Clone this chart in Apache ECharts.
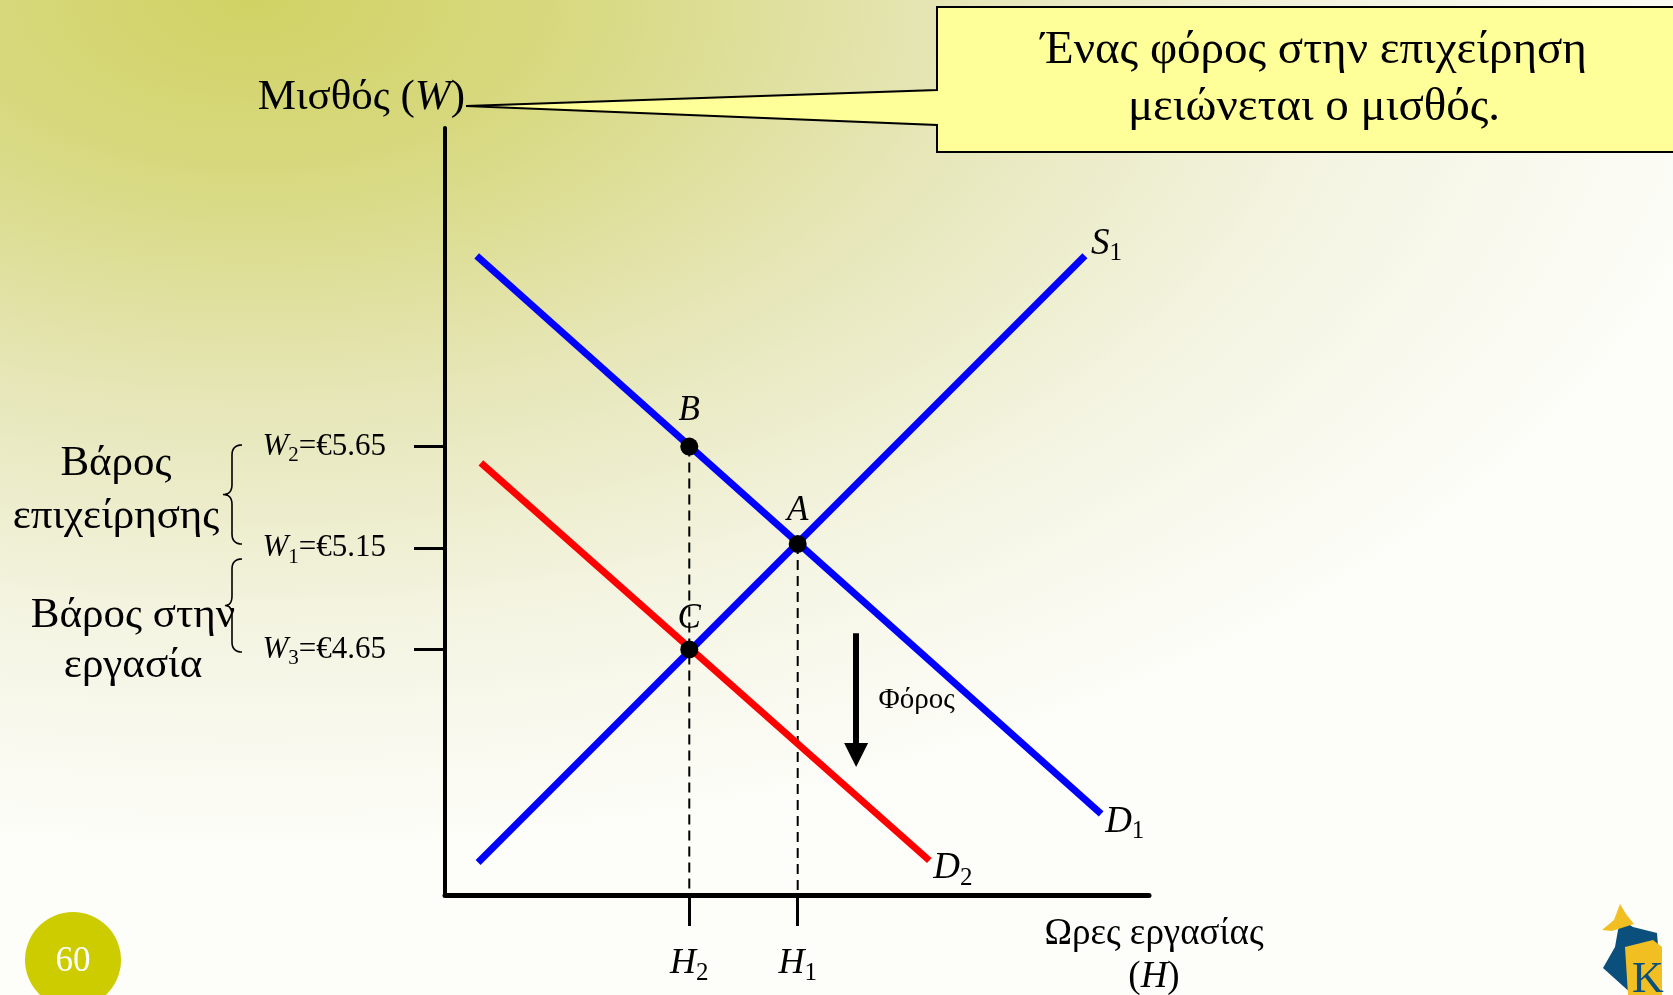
<!DOCTYPE html>
<html><head><meta charset="utf-8">
<script src="https://cdn.jsdelivr.net/npm/echarts@6/dist/echarts.min.js"></script>
<style>
html,body{margin:0;padding:0;width:1673px;height:995px;overflow:hidden;}
body{background: radial-gradient(ellipse 95% 90% at 15% 0%, #d1d264 0%, #d8d980 20%, #e6e6b8 45%, #f4f4e2 70%, #fdfdf9 95%);}
#c{width:1673px;height:995px;}
</style></head><body><div id="c"></div>
<script>
const FONT = '"Liberation Serif", "DejaVu Serif", serif';

// ---------- data ----------
const hoursRange = [0, 100];
const wageRange = [3.44, 7.22];
const supplyS1 = [[4.7, 3.60], [90.9, 6.59]];
const demandD1 = [[4.5, 6.59], [93.2, 3.84]];
const demandD2 = [[5.1, 5.57], [68.8, 3.61]];
const wageTicks = [5.65, 5.15, 4.65];
const wageTickIdx = ['2', '1', '3'];
const hourTicks = [34.7, 50.1];
const hourTickIdx = ['2', '1'];
const pointNames = ['A', 'B', 'C'];
const pointX = [50.1, 34.7, 34.7];
const pointY = [5.17, 5.65, 4.65];
const taxArrowX = 58.4;
const taxArrowY = [4.73, 4.13];
const taxLabelPos = [67.0, 4.40];

// ---------- chart ----------
const chart = echarts.init(document.getElementById('c'));
const blk = '#000';

function richSet(main, sub, subPad) {
  return {
    i: {fontFamily: FONT, fontStyle: 'italic', fontSize: main, color: blk},
    n: {fontFamily: FONT, fontSize: main, color: blk},
    s: {fontFamily: FONT, fontSize: sub, color: blk, padding: [subPad, 0, 0, 0]}
  };
}

// curly brace outline as polyline points (annotation shape)
function bracePoints(x, y0, y1, depth) {
  const pts = [];
  const mid = (y0 + y1) / 2;
  const r = 10;
  const q = (p0, p1, p2, n) => {
    for (let k = 0; k <= n; k++) {
      const t = k / n;
      pts.push([(1 - t) * (1 - t) * p0[0] + 2 * (1 - t) * t * p1[0] + t * t * p2[0],
                (1 - t) * (1 - t) * p0[1] + 2 * (1 - t) * t * p1[1] + t * t * p2[1]]);
    }
  };
  q([x + 10, y0], [x, y0], [x, y0 + r], 8);
  q([x, mid - r], [x, mid], [x - depth, mid], 8);
  q([x - depth, mid], [x, mid], [x, mid + r], 8);
  q([x, y1 - r], [x, y1], [x + 10, y1], 8);
  return pts;
}

const labelGap = {A: 7, B: 9, C: 4};
const points = pointNames.map((n, k) => ({
  name: n, value: [pointX[k], pointY[k]], label: {distance: labelGap[n]}
}));

const option = {
  animation: false,
  backgroundColor: 'transparent',
  grid: {left: 445, right: 524, top: 128, bottom: 100, containLabel: false, outerBoundsMode: 'none'},
  xAxis: {
    type: 'value', min: hoursRange[0], max: hoursRange[1],
    axisLine: {show: true, onZero: false, lineStyle: {color: blk, width: 5}},
    axisTick: {show: true, customValues: hourTicks, length: 31, lineStyle: {color: blk, width: 3}},
    axisLabel: {
      show: true, customValues: hourTicks, margin: 46,
      formatter: v => '{i|H}{s|' + hourTickIdx[hourTicks.indexOf(v)] + '}',
      rich: richSet(36, 25, 20)
    },
    splitLine: {show: false}
  },
  yAxis: {
    type: 'value', min: wageRange[0], max: wageRange[1],
    axisLine: {show: true, onZero: false, lineStyle: {color: blk, width: 4}},
    axisTick: {show: true, customValues: wageTicks, length: 31, lineStyle: {color: blk, width: 3}},
    axisLabel: {
      show: true, customValues: wageTicks, margin: 59,
      formatter: v => {
        const k = wageTicks.indexOf(v);
        return '{i|W}{s|' + wageTickIdx[k] + '}{n|=€' + v.toFixed(2) + '}';
      },
      rich: richSet(31, 21, 18)
    },
    splitLine: {show: false}
  },
  series: [
    {
      type: 'line', name: 'H2 guide', z: 2, silent: true, showSymbol: false,
      data: [[pointX[1], pointY[1]], [pointX[1], wageRange[0]]],
      lineStyle: {color: blk, width: 2, type: [10, 6]}
    },
    {
      type: 'line', name: 'H1 guide', z: 2, silent: true, showSymbol: false,
      data: [[pointX[0], pointY[0]], [pointX[0], wageRange[0]]],
      lineStyle: {color: blk, width: 2, type: [10, 6]}
    },
    {
      type: 'line', name: 'S1', z: 3, showSymbol: false, data: supplyS1,
      lineStyle: {color: '#0000ff', width: 7, cap: 'butt'},
      endLabel: {show: true, formatter: '{i|S}{s|1}', rich: richSet(37, 25, 20), distance: 6, offset: [0, -12]}
    },
    {
      type: 'line', name: 'D1', z: 3, showSymbol: false, data: demandD1,
      lineStyle: {color: '#0000ff', width: 7, cap: 'butt'},
      endLabel: {show: true, formatter: '{i|D}{s|1}', rich: richSet(37, 25, 20), distance: 4, offset: [0, 8]}
    },
    {
      type: 'line', name: 'D2', z: 3, showSymbol: false, data: demandD2,
      lineStyle: {color: '#ff0000', width: 7, cap: 'butt'},
      endLabel: {show: true, formatter: '{i|D}{s|2}', rich: richSet(37, 25, 20), distance: 4, offset: [0, 8]}
    },
    {
      type: 'scatter', name: 'points', z: 5, symbolSize: 18, data: points,
      itemStyle: {color: blk, opacity: 1},
      label: {show: true, position: 'top', distance: 5, formatter: '{b}', opacity: 1,
        fontFamily: FONT, fontStyle: 'italic', fontSize: 35, color: blk}
    },
    {
      type: 'scatter', name: 'tax', z: 4, symbolSize: 1, silent: true,
      data: [{name: 'Φόρος', value: taxLabelPos}],
      itemStyle: {color: 'rgba(0,0,0,0)', opacity: 1},
      label: {show: true, position: 'inside', formatter: '{b}', opacity: 1, fontFamily: FONT, fontSize: 29, color: blk},
      markLine: {
        silent: true, animation: false, symbol: ['none', 'triangle'], symbolSize: [24, 24],
        lineStyle: {color: blk, width: 6, type: 'solid', opacity: 1},
        itemStyle: {color: blk, opacity: 1},
        label: {show: false},
        data: [[{coord: [taxArrowX, taxArrowY[0]]}, {coord: [taxArrowX, taxArrowY[1]]}]]
      }
    }
  ],
  graphic: [
    {
      type: 'polygon', z: 10,
      shape: {points: [[937, 7], [1710, 7], [1710, 152], [937, 152], [937, 125], [466, 106], [937, 90]]},
      style: {fill: '#ffff99', stroke: blk, lineWidth: 2}
    },
    {
      type: 'text', z: 11,
      style: {text: 'Ένας φόρος στην επιχείρηση\nμειώνεται ο μισθός.', x: 1314, y: 79,
        align: 'center', verticalAlign: 'middle', fontFamily: FONT, fontSize: 47, lineHeight: 57, fill: blk}
    },
    {
      type: 'text', z: 11,
      style: {text: '{n|Μισθός (}{i|W}{n|)}', x: 465, y: 98, align: 'right', verticalAlign: 'middle',
        rich: richSet(43, 26, 0)}
    },
    {
      type: 'text', z: 11,
      style: {text: '{n|Ωρες εργασίας}\n{n|(}{i|H}{n|)}', x: 1154, y: 956, align: 'center', verticalAlign: 'middle',
        rich: {n: {fontFamily: FONT, fontSize: 37, lineHeight: 43, fill: blk}, i: {fontFamily: FONT, fontSize: 37, lineHeight: 43, fontStyle: 'italic', fill: blk}}}
    },
    {
      type: 'text', z: 11,
      style: {text: 'Βάρος\nεπιχείρησης', x: 116, y: 490, align: 'center', verticalAlign: 'middle',
        fontFamily: FONT, fontSize: 43, lineHeight: 53, fill: blk}
    },
    {
      type: 'text', z: 11,
      style: {text: 'Βάρος στην\nεργασία', x: 133, y: 641, align: 'center', verticalAlign: 'middle',
        fontFamily: FONT, fontSize: 43, lineHeight: 50, fill: blk}
    },
    {
      type: 'polyline', z: 11, shape: {points: bracePoints(232, 445, 544, 9)},
      style: {fill: null, stroke: blk, lineWidth: 1.6}
    },
    {
      type: 'polyline', z: 11, shape: {points: bracePoints(232, 559, 652, 7)},
      style: {fill: null, stroke: blk, lineWidth: 1.6}
    },
    {
      type: 'circle', z: 11, shape: {cx: 73, cy: 960, r: 48}, style: {fill: '#cccc00'}
    },
    {
      type: 'text', z: 12,
      style: {text: '60', x: 73, y: 962, align: 'center', verticalAlign: 'middle', fontFamily: FONT, fontSize: 35, fill: '#fff'}
    },
    {
      type: 'polygon', z: 11,
      shape: {points: [[1622, 920], [1633, 927], [1657, 933], [1662, 995], [1633, 995], [1603, 968], [1615, 947], [1618, 930]]},
      style: {fill: '#0b4f7c'}
    },
    {
      type: 'polygon', z: 12,
      shape: {points: [[1620, 904], [1626, 914], [1634, 924], [1612, 931], [1602, 930], [1614, 920]]},
      style: {fill: '#f2bf22'}
    },
    {
      type: 'polygon', z: 12,
      shape: {points: [[1625, 947], [1653, 940], [1662, 947], [1662, 995], [1628, 995]]},
      style: {fill: '#f2bf22'}
    },
    {
      type: 'text', z: 13,
      style: {text: 'K', x: 1648, y: 980, align: 'center', verticalAlign: 'middle', fontFamily: FONT, fontSize: 44, fill: '#0b4f7c'}
    }
  ]
};
chart.setOption(option);
</script></body></html>
